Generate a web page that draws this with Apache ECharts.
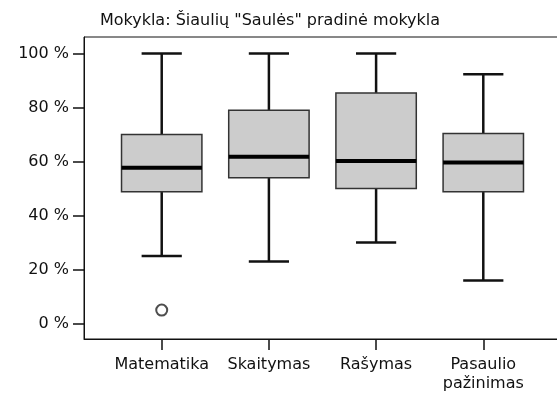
<!DOCTYPE html>
<html>
<head>
<meta charset="utf-8">
<script src="https://cdn.jsdelivr.net/npm/echarts@6/dist/echarts.min.js"></script>
<style>
  html, body { margin: 0; padding: 0; background: #fff; }
  #chart { width: 557px; height: 394px; }
</style>
</head>
<body>
<div id="chart"></div>
<script>
// Subjects on the horizontal axis
const categories = ['Matematika', 'Skaitymas', 'Rašymas', 'Pasaulio\npažinimas'];
// Five-number summaries per subject (percent)
const lowerWhisker = [25, 23, 30, 16];
const quartile1 = [48.8, 54, 50, 48.8];
const medians = [57.7, 61.8, 60.2, 59.6];
const quartile3 = [70, 79, 85.4, 70.4];
const upperWhisker = [100, 100, 100, 92.3];
// Outliers: [subject index, value]
const outliers = [[0, 5]];
// Y axis tick labels
const yTicks = [0, 20, 40, 60, 80, 100];

const FONT = 'DejaVu Sans';
const positions = categories.map((_, i) => i + 1);

const boxData = categories.map((_, i) => [
  i + 1, lowerWhisker[i], quartile1[i], medians[i], quartile3[i], upperWhisker[i]
]);
const outlierData = outliers.map(([i, v]) => [i + 1, v]);

const chart = echarts.init(document.getElementById('chart'));

chart.setOption({
  backgroundColor: '#ffffff',
  animation: false,
  graphic: [{
    type: 'text',
    x: 270,
    y: 21,
    style: {
      text: 'Mokykla: Šiaulių "Saulės" pradinė mokykla',
      font: '16px "' + FONT + '"',
      fill: '#111',
      align: 'center',
      verticalAlign: 'middle'
    }
  }],
  grid: {
    left: 84,
    top: 37,
    width: 477,
    bottom: 55,
    outerBoundsMode: 'none',
    containLabel: false,
    show: true,
    borderColor: '#111',
    borderWidth: 1,
    backgroundColor: 'transparent'
  },
  xAxis: {
    type: 'value',
    min: 0.275,
    max: 4.725,
    splitLine: { show: false },
    axisLine: { show: true, onZero: false, lineStyle: { color: '#111', width: 1 } },
    axisTick: {
      show: true,
      length: 11,
      customValues: positions,
      lineStyle: { color: '#111', width: 1.5 }
    },
    axisLabel: {
      customValues: positions,
      margin: 16,
      fontFamily: FONT,
      fontSize: 16,
      color: '#111',
      lineHeight: 19,
      formatter: v => categories[Math.round(v) - 1] || ''
    }
  },
  yAxis: {
    type: 'value',
    min: -5.7,
    max: 106.1,
    splitLine: { show: false },
    axisLine: { show: true, onZero: false, lineStyle: { color: '#111', width: 1 } },
    axisTick: {
      show: true,
      length: 11,
      customValues: yTicks,
      lineStyle: { color: '#111', width: 1.5 }
    },
    axisLabel: {
      customValues: yTicks,
      margin: 15,
      fontFamily: FONT,
      fontSize: 16,
      color: '#111',
      formatter: v => v + ' %'
    }
  },
  series: [
    {
      type: 'custom',
      data: boxData,
      encode: { x: 0, y: [1, 2, 3, 4, 5] },
      renderItem: function (params, api) {
        const x = api.value(0);
        const pLow = api.coord([x, api.value(1)]);
        const pQ1 = api.coord([x, api.value(2)]);
        const pMed = api.coord([x, api.value(3)]);
        const pQ3 = api.coord([x, api.value(4)]);
        const pHigh = api.coord([x, api.value(5)]);
        const band = api.size([1, 0])[0];
        const boxW = band * 0.75;
        const capW = boxW / 2;
        const cx = pMed[0];
        const whisker = { stroke: '#111', lineWidth: 2.5 };
        return {
          type: 'group',
          children: [
            { type: 'line', shape: { x1: cx, y1: pHigh[1], x2: cx, y2: pQ3[1] }, style: whisker },
            { type: 'line', shape: { x1: cx, y1: pQ1[1], x2: cx, y2: pLow[1] }, style: whisker },
            { type: 'line', shape: { x1: cx - capW / 2, y1: pHigh[1], x2: cx + capW / 2, y2: pHigh[1] }, style: whisker },
            { type: 'line', shape: { x1: cx - capW / 2, y1: pLow[1], x2: cx + capW / 2, y2: pLow[1] }, style: whisker },
            {
              type: 'rect',
              shape: { x: cx - boxW / 2, y: pQ3[1], width: boxW, height: pQ1[1] - pQ3[1] },
              style: { fill: '#cccccc', stroke: '#333', lineWidth: 1.5 }
            },
            {
              type: 'line',
              shape: { x1: cx - boxW / 2, y1: pMed[1], x2: cx + boxW / 2, y2: pMed[1] },
              style: { stroke: '#000', lineWidth: 4 }
            }
          ]
        };
      }
    },
    {
      type: 'scatter',
      data: outlierData,
      symbol: 'circle',
      symbolSize: 11,
      itemStyle: { color: '#fff', borderColor: '#222', borderWidth: 2 }
    }
  ]
});
</script>
</body>
</html>
